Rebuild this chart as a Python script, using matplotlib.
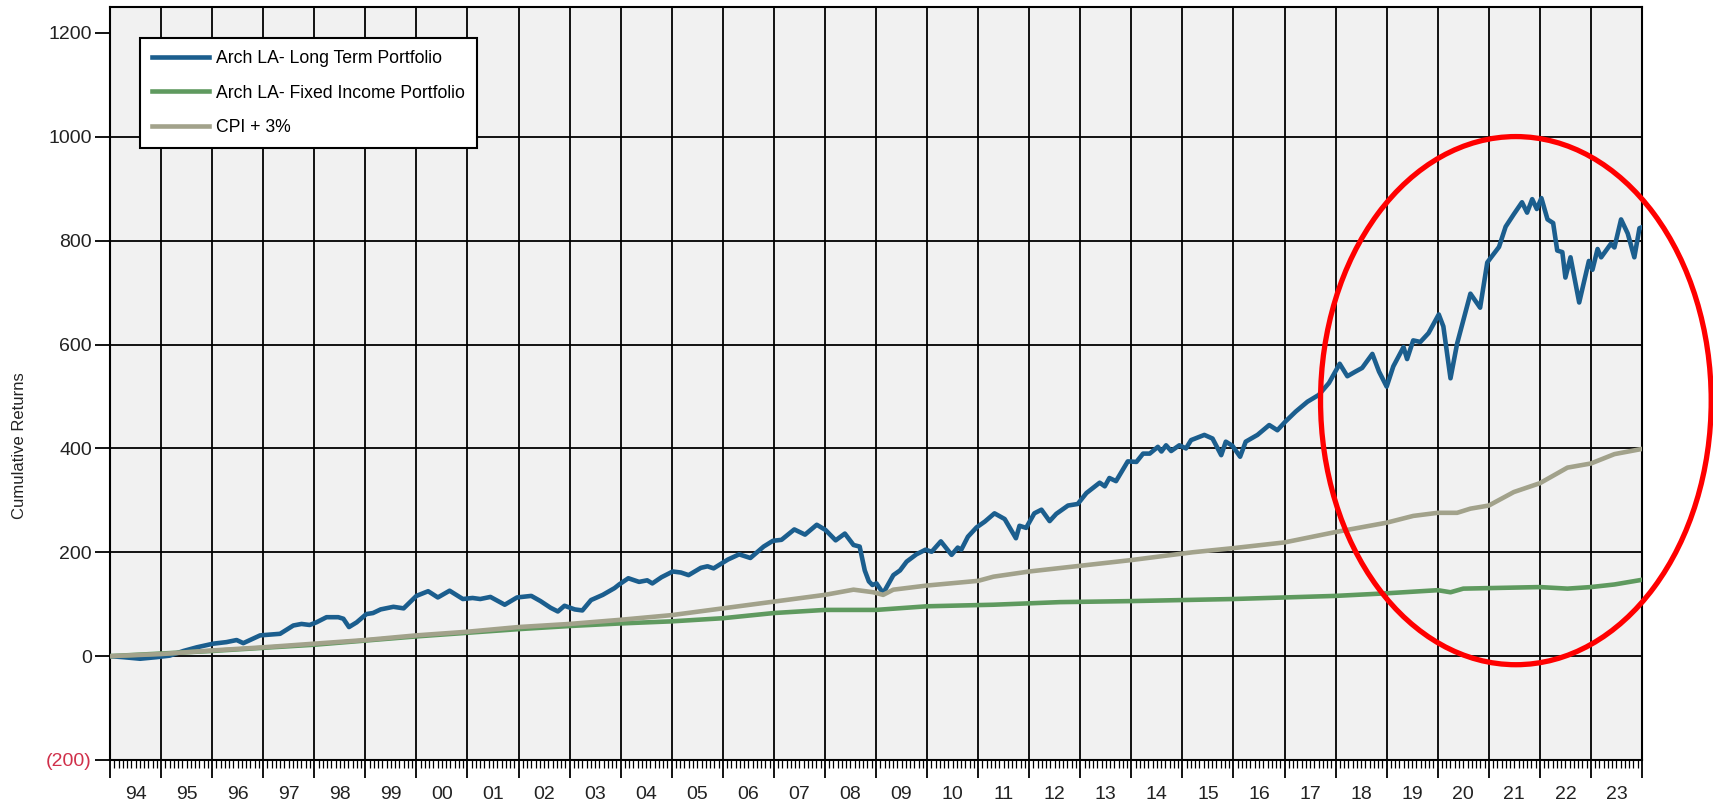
import matplotlib
matplotlib.use('Agg')
import matplotlib.pyplot as plt
from matplotlib.patches import Ellipse
import numpy as np

plt.rcParams['font.family'] = ['Liberation Sans', 'DejaVu Sans']

BLUE = '#1b5e8e'
GREEN = '#5f9a5f'
CPI_COL = '#a2a28b'
RED = '#ff0000'
BG = '#f1f1f1'

# --- data ---
lt_years = [1994.0, 1994.26, 1994.59, 1994.91, 1995.17, 1995.44, 1995.7, 1996.02, 1996.28, 1996.48,
            1996.61, 1996.94, 1997.2, 1997.33, 1997.59, 1997.75, 1997.91, 1998.04, 1998.24, 1998.47,
            1998.57, 1998.68, 1998.83, 1999.02, 1999.15, 1999.3, 1999.55, 1999.75, 2000.0, 2000.23,
            2000.42, 2000.65, 2000.91, 2001.1, 2001.25, 2001.45, 2001.73, 2001.97, 2002.25, 2002.43,
            2002.63, 2002.77, 2002.9, 2003.1, 2003.25, 2003.42, 2003.65, 2003.88, 2003.97, 2004.15,
            2004.36, 2004.52, 2004.62, 2004.8, 2005.02, 2005.18, 2005.33, 2005.57, 2005.7, 2005.82,
            2006.1, 2006.32, 2006.54, 2006.8, 2006.98, 2007.15, 2007.4, 2007.61, 2007.84, 2008.01,
            2008.21, 2008.39, 2008.56, 2008.68, 2008.78, 2008.86, 2008.93, 2009.01, 2009.14, 2009.34,
            2009.47, 2009.6, 2009.79, 2009.97, 2010.09, 2010.27, 2010.48, 2010.6, 2010.67, 2010.8,
            2010.97, 2011.13, 2011.32, 2011.52, 2011.74, 2011.81, 2011.94, 2012.1, 2012.24, 2012.4,
            2012.53, 2012.76, 2012.95, 2013.12, 2013.38, 2013.48, 2013.57, 2013.7, 2013.93, 2014.1,
            2014.23, 2014.36, 2014.52, 2014.59, 2014.68, 2014.78, 2014.94, 2015.07, 2015.17, 2015.43,
            2015.59, 2015.76, 2015.85, 2015.98, 2016.13, 2016.24, 2016.47, 2016.7, 2016.86, 2017.02,
            2017.22, 2017.45, 2017.67, 2017.87, 2018.08, 2018.23, 2018.39, 2018.52, 2018.72, 2018.85,
            2019.0, 2019.13, 2019.33, 2019.4, 2019.52, 2019.66, 2019.82, 2020.02, 2020.11, 2020.25,
            2020.38, 2020.64, 2020.83, 2020.97, 2021.03, 2021.2, 2021.33, 2021.49, 2021.65, 2021.75,
            2021.85, 2021.94, 2022.03, 2022.15, 2022.26, 2022.34, 2022.44, 2022.5, 2022.6, 2022.77,
            2022.96, 2023.03, 2023.13, 2023.2, 2023.39, 2023.46, 2023.59, 2023.72, 2023.85, 2023.95,
            2024.0]
lt_values = [0, -2, -5, -2, 1, 10, 17, 24, 27, 31,
             25, 40, 42, 43, 59, 62, 60, 65, 75, 75,
             72, 56, 65, 81, 83, 90, 95, 92, 116, 125,
             113, 126, 110, 112, 110, 114, 99, 113, 116, 106,
             93, 86, 97, 90, 88, 108, 118, 131, 138, 150,
             143, 146, 140, 152, 163, 161, 156, 170, 173, 169,
             186, 196, 189, 211, 222, 224, 244, 234, 253, 243,
             223, 236, 214, 211, 165, 144, 137, 140, 121, 156,
             165, 182, 196, 205, 201, 221, 195, 209, 205, 230,
             248, 259, 275, 264, 227, 251, 247, 275, 282, 260,
             274, 290, 293, 314, 334, 327, 343, 337, 375, 374,
             390, 390, 403, 394, 406, 395, 406, 400, 416, 426,
             419, 387, 413, 405, 384, 413, 426, 445, 435, 452,
             471, 490, 503, 526, 563, 539, 548, 555, 582, 548,
             519, 558, 595, 572, 608, 605, 622, 658, 635, 535,
             602, 698, 671, 758, 766, 788, 827, 851, 874, 854,
             880, 861, 882, 841, 834, 781, 778, 729, 768, 681,
             761, 744, 784, 768, 794, 787, 841, 814, 768, 824,
             826]

fi_years = [1994, 1996, 1998, 2000, 2002, 2003, 2004, 2005, 2006, 2007, 2008, 2009, 2010,
            2011.3, 2012.6, 2014, 2016, 2018, 2019, 2020, 2020.25, 2020.5, 2022, 2022.54,
            2023, 2023.46, 2024]
fi_values = [0, 10, 22, 38, 52, 58, 63, 67, 73, 83, 89, 89, 96,
             99, 104, 106, 110, 116, 121, 127, 123, 130, 133, 130,
             133, 138, 147]

cpi_years = [1994, 1995, 1996, 1997, 1998, 1999, 2000, 2001, 2002, 2003, 2004, 2005, 2006,
             2007, 2008, 2008.56, 2008.95, 2009.14, 2009.34, 2010, 2011, 2011.3, 2012, 2013,
             2014, 2015.2, 2016, 2017, 2018, 2019, 2019.52, 2020, 2020.38, 2020.64, 2021,
             2021.49, 2022, 2022.54, 2023, 2023.46, 2024]
cpi_values = [0, 4, 11, 17, 24, 31, 40, 47, 56, 62, 70, 79, 92,
              105, 118, 128, 123, 118, 128, 136, 145, 153, 163, 174,
              185, 200, 208, 219, 239, 257, 270, 276, 276, 284, 290,
              316, 333, 363, 371, 389, 399]

series_labels = ['Arch LA- Long Term Portfolio', 'Arch LA- Fixed Income Portfolio', 'CPI + 3%']
year_labels = ['94', '95', '96', '97', '98', '99', '00', '01', '02', '03', '04', '05', '06',
               '07', '08', '09', '10', '11', '12', '13', '14', '15', '16', '17', '18', '19',
               '20', '21', '22', '23']
y_ticks = [-200, 0, 200, 400, 600, 800, 1000, 1200]

fig = plt.figure(figsize=(17.13, 8.07), dpi=100)
ax = fig.add_axes([110 / 1713, 47 / 807, 1532 / 1713, 753 / 807])
ax.set_facecolor(BG)

l1, = ax.plot(lt_years, lt_values, color=BLUE, lw=3.3, zorder=3)
l2, = ax.plot(fi_years, fi_values, color=GREEN, lw=3.3, zorder=3)
l3, = ax.plot(cpi_years, cpi_values, color=CPI_COL, lw=3.3, zorder=3)

ax.set_xlim(1994, 2024)
ax.set_ylim(-200, 1250)

# x axis: year boundaries + monthly minor ticks, labels centred in each year
ax.set_xticks(np.arange(1994, 2025))
ax.set_xticklabels([])
ax.set_xticks(np.arange(1994, 2024, 1 / 12), minor=True)
ax.tick_params(axis='x', which='major', length=13, width=1.3, direction='out')
ax.tick_params(axis='x', which='minor', length=6, width=0.9, direction='out')
ax.grid(axis='x', which='major', color='black', lw=1.3, zorder=1)

sec = ax.secondary_xaxis('bottom')
sec.set_xticks(np.arange(1994, 2024) + 0.5, year_labels)
sec.tick_params(length=0, pad=19, labelsize=14, labelcolor='#222222')
sec.spines['bottom'].set_visible(False)

# y axis
ax.set_yticks(y_ticks, [f'({abs(v)})' if v < 0 else str(v) for v in y_ticks])
ax.tick_params(axis='y', length=11, width=1.3, pad=2, labelsize=14, labelcolor='#222222')
for t, v in zip(ax.get_yticklabels(), y_ticks):
    if v < 0:
        t.set_color('#d0304a')
for v in y_ticks[1:-1]:
    ax.axhline(v, color='black', lw=1.3, zorder=1)

for s in ax.spines.values():
    s.set_color('black')
    s.set_linewidth(1.5)

fig.text(20 / 1713, 1 - 446 / 807, 'Cumulative Returns', rotation=90, ha='center', va='center',
         fontsize=12, color='#222222')

leg = ax.legend([l1, l2, l3], series_labels, loc='upper left', bbox_to_anchor=(0.0196, 0.959),
                borderaxespad=0, fancybox=False, edgecolor='black', framealpha=1, fontsize=12.7,
                handlelength=3.2, handletextpad=0.4, labelspacing=0.98, borderpad=0.7)
leg.get_frame().set_linewidth(1.5)
leg.set_zorder(6)

# red highlight ring round the last years
ring = Ellipse((2021.53, 492), 7.65, 1017, fill=False, edgecolor=RED, lw=3.8,
               clip_on=False, zorder=7)
ax.add_patch(ring)

fig.savefig('out.png', dpi=100, facecolor='white')
